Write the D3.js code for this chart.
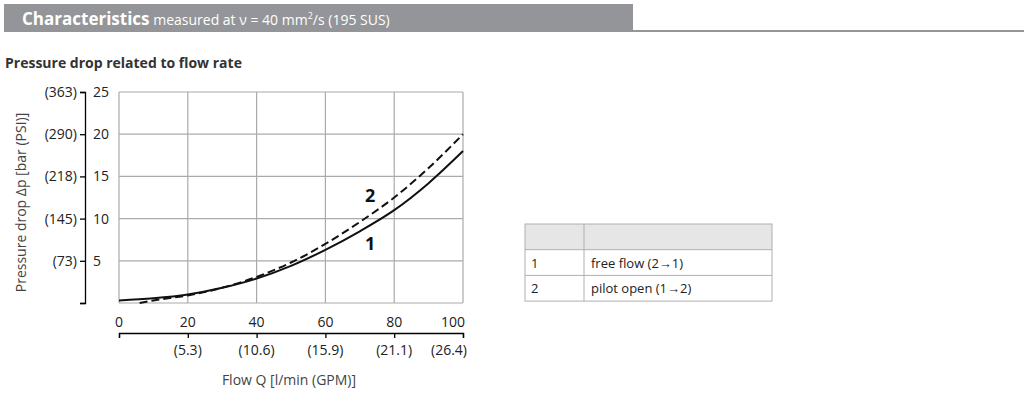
<!DOCTYPE html>
<html><head><meta charset="utf-8">
<script src="https://cdn.jsdelivr.net/npm/d3@7"></script>
<style>body{margin:0;background:#fff}svg text{font-family:"Open Sans",sans-serif}</style>
</head><body>
<svg id="c" width="1032" height="401"></svg>
<script>
var flow1 = [0, 10, 20, 30, 40, 50, 60, 70, 80, 90, 100];
var drop1 = [0.3, 0.55, 1.0, 1.8, 2.9, 4.4, 6.3, 8.5, 11.0, 14.2, 18.0];
var flow2 = [6, 10, 20, 30, 40, 50, 60, 70, 80, 90, 100];
var drop2 = [0.0, 0.3, 0.9, 1.8, 3.1, 4.8, 7.0, 9.6, 12.5, 16.0, 20.0];
var barTicks = [5, 10, 15, 20, 25];
var psiLabels = ['(73)', '(145)', '(218)', '(290)', '(363)'];
var lpmTicks = [0, 20, 40, 60, 80, 100];
var gpmLabels = ['', '(5.3)', '(10.6)', '(15.9)', '(21.1)', '(26.4)'];
var legendRows = [['1', 'free flow (2\u21921)'], ['2', 'pilot open (1\u21922)']];

var svg = d3.select('#c');
var grey = '#939598';

// header bar
svg.append('rect').attr('x', 4).attr('y', 4).attr('width', 629).attr('height', 28).attr('fill', grey);
svg.append('rect').attr('x', 633).attr('y', 30).attr('width', 391).attr('height', 2).attr('fill', grey);
var h = svg.append('text').attr('x', 22).attr('y', 25).attr('fill', '#fff');
h.append('tspan').attr('font-size', 17).attr('font-weight', 'bold').text('Characteristics');
h.append('tspan').attr('font-size', 14).text(' measured at \u03bd = 40 mm');
h.append('tspan').attr('font-size', 9).attr('dy', -6).text('2');
h.append('tspan').attr('font-size', 14).attr('dy', 6).text('/s (195 SUS)');

svg.append('text').attr('x', 5).attr('y', 68).attr('font-size', 14).attr('font-weight', 'bold')
	.attr('fill', '#333').text('Pressure drop related to flow rate');

var x = d3.scaleLinear().domain([0, 100]).range([119, 463]);
var y = d3.scaleLinear().domain([0, 25]).range([303, 92]);
var cond = '"Liberation Sans Narrow","Liberation Sans",sans-serif';

// grid
var g = svg.append('g');
g.selectAll('line.v').data(lpmTicks).enter().append('line')
	.attr('x1', function(d) { return x(d); }).attr('x2', function(d) { return x(d); })
	.attr('y1', y(0)).attr('y2', y(25)).attr('stroke', '#aaa').attr('stroke-width', 1.2);
g.selectAll('line.h').data([0].concat(barTicks)).enter().append('line')
	.attr('x1', x(0)).attr('x2', x(100))
	.attr('y1', function(d) { return y(d); }).attr('y2', function(d) { return y(d); })
	.attr('stroke', '#aaa').attr('stroke-width', 1.2);

// left axis
var ay = svg.append('g').attr('transform', 'translate(85,0)')
	.call(d3.axisLeft(y).tickValues([0].concat(barTicks)).tickSize(5).tickFormat(''));
ay.select('.domain').attr('stroke-width', 1.3);
ay.selectAll('.tick line').attr('stroke-width', 1.3);
svg.selectAll('text.bar').data(barTicks).enter().append('text')
	.attr('x', 93).attr('y', function(d) { return y(d) + 5; })
	.attr('font-size', 14).attr('font-family', cond).attr('fill', '#222').text(function(d) { return d; });
svg.selectAll('text.psi').data(barTicks).enter().append('text')
	.attr('x', 77).attr('y', function(d) { return y(d) + 5; }).attr('text-anchor', 'end')
	.attr('font-size', 14).attr('font-family', cond).attr('fill', '#222').text(function(d, i) { return psiLabels[i]; });
svg.append('text').attr('transform', 'translate(26,' + (y(12.5) + 5) + ') rotate(-90)')
	.attr('text-anchor', 'middle').attr('font-size', 14).attr('fill', '#444')
	.text('Pressure drop \u0394p [bar (PSI)]');

// bottom axis
var ax = svg.append('g').attr('transform', 'translate(0,333)')
	.call(d3.axisBottom(x).tickValues(lpmTicks).tickSize(5).tickFormat(''));
ax.select('.domain').attr('stroke-width', 1.3);
ax.selectAll('.tick line').attr('stroke-width', 1.3);
svg.selectAll('text.lpm').data(lpmTicks).enter().append('text')
	.attr('x', function(d) { return x(d) + (d === 100 ? -10 : 0); }).attr('y', 327).attr('text-anchor', 'middle')
	.attr('font-size', 14).attr('font-family', cond).attr('fill', '#222').text(function(d) { return d; });
svg.selectAll('text.gpm').data(lpmTicks).enter().append('text')
	.attr('x', function(d) { return x(d) + (d === 100 ? -14 : 0); }).attr('y', 355).attr('text-anchor', 'middle')
	.attr('font-size', 14).attr('font-family', cond).attr('fill', '#222').text(function(d, i) { return gpmLabels[i]; });
svg.append('text').attr('x', x(50) - 2).attr('y', 385).attr('text-anchor', 'middle')
	.attr('font-size', 14).attr('fill', '#444').text('Flow Q [l/min (GPM)]');

// curves
var line = d3.line().x(function(d) { return x(d[0]); }).y(function(d) { return y(d[1]); }).curve(d3.curveMonotoneX);
svg.append('path').datum(d3.zip(flow1, drop1)).attr('d', line)
	.attr('fill', 'none').attr('stroke', '#111').attr('stroke-width', 2);
svg.append('path').datum(d3.zip(flow2, drop2)).attr('d', line)
	.attr('fill', 'none').attr('stroke', '#111').attr('stroke-width', 2).attr('stroke-dasharray', '8,4');
svg.append('text').attr('x', x(71.5)).attr('y', y(12.0)).attr('font-size', 18).attr('font-weight', 'bold')
	.attr('font-family', cond).attr('fill', '#111').text('2');
svg.append('text').attr('x', x(71.5)).attr('y', y(6.3)).attr('font-size', 18).attr('font-weight', 'bold')
	.attr('font-family', cond).attr('fill', '#111').text('1');

// legend table
var tx = 525, tw = 247, cx = 584, rh = 25.7, ty = 224;
svg.append('rect').attr('x', tx).attr('y', ty).attr('width', tw).attr('height', rh).attr('fill', '#e6e6e7');
var rows = svg.selectAll('g.row').data(legendRows).enter().append('g')
	.attr('transform', function(d, i) { return 'translate(0,' + (ty + rh * (i + 1)) + ')'; });
rows.append('text').attr('x', tx + 6).attr('y', 18).attr('font-size', 13).attr('fill', '#222').text(function(d) { return d[0]; });
rows.append('text').attr('x', cx + 7).attr('y', 18).attr('font-size', 13).attr('fill', '#222').text(function(d) { return d[1]; });
svg.append('rect').attr('x', tx).attr('y', ty).attr('width', tw).attr('height', rh * 3)
	.attr('fill', 'none').attr('stroke', '#b0b0b0');
svg.selectAll('line.rl').data([1, 2]).enter().append('line')
	.attr('x1', tx).attr('x2', tx + tw).attr('y1', function(d) { return ty + rh * d; }).attr('y2', function(d) { return ty + rh * d; })
	.attr('stroke', '#b0b0b0');
svg.append('line').attr('x1', cx).attr('x2', cx).attr('y1', ty).attr('y2', ty + rh * 3).attr('stroke', '#b0b0b0');
</script>
</body></html>
